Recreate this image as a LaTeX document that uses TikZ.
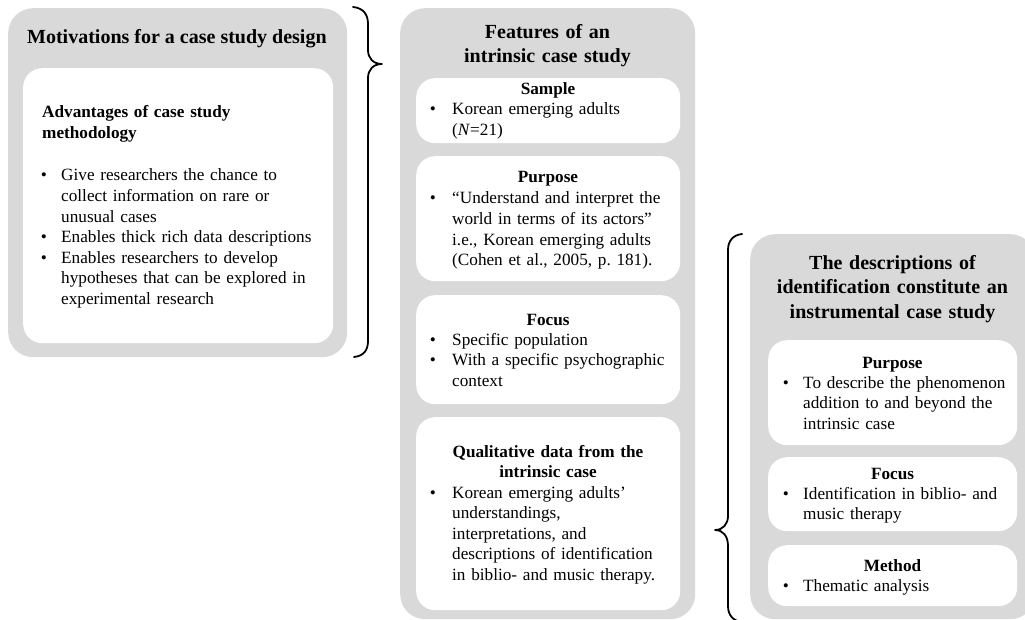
\documentclass[tikz,border=0pt]{standalone}
\usepackage{fontspec}
\setmainfont{Liberation Serif}
\frenchspacing
\definecolor{panelgray}{RGB}{217,217,217}
\newcommand{\titlefont}{\fontsize{20}{24}\selectfont\bfseries}
\newcommand{\bodyfont}{\fontsize{17.2}{20.6}\selectfont\hyphenpenalty=10000\exhyphenpenalty=10000}
\begin{document}
\begin{tikzpicture}[x=1pt,y=-1pt,
  panel/.style={fill=panelgray, rounded corners=25pt, inner sep=0pt, anchor=north west},
  card/.style={fill=white, rounded corners=19pt, inner sep=0pt, anchor=north west},
  curly/.style={line width=1.8pt, line cap=round, line join=round},
  ptitle/.style={inner sep=0pt, font=\titlefont, align=center, text width=290pt, anchor=base},
  head/.style={inner sep=0pt, font=\bodyfont\bfseries, align=center, text width=250pt, anchor=base},
  items/.style={inner sep=0pt, font=\bodyfont, align=left, text width=275pt, anchor=base west},
  dot/.style={inner sep=0pt, font=\bodyfont, anchor=base},
]
\useasboundingbox (0,0) rectangle (1025,620);
\begin{scope}
\clip (0,0) rectangle (1025,620);

% ---------- left panel: motivations ----------
\node[panel, minimum width=339pt, minimum height=349pt] (motiv) at (8,8) {};
\node[card, minimum width=310pt, minimum height=275pt] (adv) at (23,68) {};
\node[inner sep=0pt, font=\titlefont, anchor=base west] (motivtitle) at (27,44) {Motivations for a case study design};
\node[inner sep=0pt, font=\bodyfont\bfseries, align=left, text width=250pt, anchor=base west] (advhead) at (42,118)
  {Advantages of case study\\methodology};
\node[dot] (advb1) at (44,181) {\textbullet};
\node[dot] (advb2) at (44,242.8) {\textbullet};
\node[dot] (advb3) at (44,263.4) {\textbullet};
\node[items] (advtext) at (61,181)
  {Give researchers the chance to\\collect information on rare or\\unusual cases\\Enables thick rich data descriptions\\Enables researchers to develop\\hypotheses that can be explored in\\experimental research};

% ---------- middle panel: intrinsic case study ----------
\node[panel, minimum width=295pt, minimum height=611pt] (intr) at (400,8) {};
\node[ptitle] (intrtitle) at (547.5,39) {Features of an\\intrinsic case study};

\node[card, minimum width=264pt, minimum height=65pt] (sample) at (416,78) {};
\node[head] (samplehead) at (548,95) {Sample};
\node[dot] (sampleb1) at (433,115) {\textbullet};
\node[items] (sampletext) at (452,115) {Korean emerging adults\\(\textit{N}=21)};

\node[card, minimum width=264pt, minimum height=125pt] (purp) at (416,156) {};
\node[head] (purphead) at (548,183) {Purpose};
\node[dot] (purpb1) at (433,204) {\textbullet};
\node[items] (purptext) at (452,204)
  {“Understand and interpret the\\world in terms of its actors”\\i.e., Korean emerging adults\\(Cohen et al., 2005, p. 181).};

\node[card, minimum width=264pt, minimum height=109pt] (focus) at (416,295) {};
\node[head] (focushead) at (548,325) {Focus};
\node[dot] (focusb1) at (433,345) {\textbullet};
\node[dot] (focusb2) at (433,365.6) {\textbullet};
\node[items] (focustext) at (452,345) {Specific population\\With a specific psychographic\\context};

\node[card, minimum width=264pt, minimum height=193pt] (qual) at (416,417) {};
\node[head] (qualhead) at (548,457) {Qualitative data from the\\intrinsic case};
\node[dot] (qualb1) at (433,498) {\textbullet};
\node[items] (qualtext) at (452,498)
  {Korean emerging adults’\\understandings,\\interpretations, and\\descriptions of identification\\in biblio- and music therapy.};

% ---------- right panel: instrumental case study ----------
\node[panel, minimum width=285pt, minimum height=385pt] (instr) at (750,234) {};
\node[ptitle] (instrtitle) at (892.5,270) {The descriptions of\\identification constitute an\\instrumental case study};

\node[card, minimum width=249pt, minimum height=105pt] (ipurp) at (768,340) {};
\node[head] (ipurphead) at (892.5,368) {Purpose};
\node[dot] (ipurpb1) at (786,388) {\textbullet};
\node[items, text width=210pt] (ipurptext) at (803,388) {To describe the phenomenon\\addition to and beyond the\\intrinsic case};

\node[card, minimum width=249pt, minimum height=74pt] (ifocus) at (768,457) {};
\node[head] (ifocushead) at (892.5,479) {Focus};
\node[dot] (ifocusb1) at (786,499) {\textbullet};
\node[items, text width=210pt] (ifocustext) at (803,499) {Identification in biblio- and\\music therapy};

\node[card, minimum width=249pt, minimum height=61pt] (imeth) at (768,545) {};
\node[head] (imethhead) at (892.5,571) {Method};
\node[dot] (imethb1) at (786,591) {\textbullet};
\node[items, text width=210pt] (imethtext) at (803,591) {Thematic analysis};

% ---------- braces ----------
\draw[curly] (353,7) .. controls (363,8) and (368,14) .. (368,24) -- (368,50)
  .. controls (368,58) and (373,64) .. (382,64)
  .. controls (373,64) and (368,70) .. (368,78) -- (368,341)
  .. controls (368,351) and (363,356) .. (354,357);
\draw[curly] (742,234) .. controls (733,235) and (728,241) .. (728,250) -- (728,516)
  .. controls (728,524) and (723,530) .. (715,530)
  .. controls (723,530) and (728,536) .. (728,546) -- (728,606)
  .. controls (728,615) and (733,621) .. (742,622);
\end{scope}
\end{tikzpicture}
\end{document}
